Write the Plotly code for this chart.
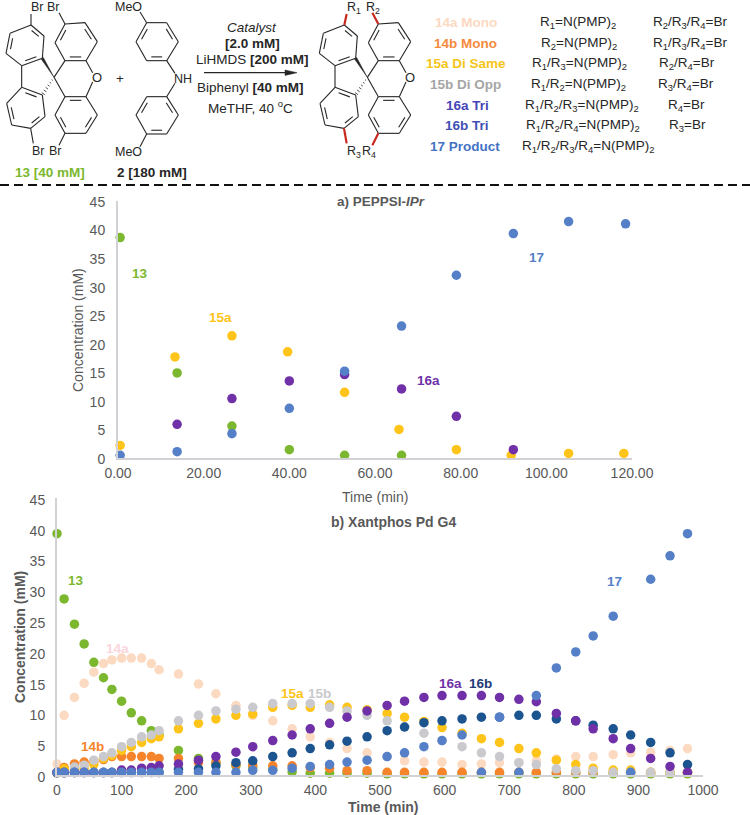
import plotly.graph_objects as go

# ---------- data: chart a (PEPPSI-IPr) ----------
a_green_t = [0.5, 13.8, 26.6, 40, 52.9, 66.2]
a_green = [38.6, 14.9, 5.6, 1.46, 0.47, 0.47]
a_yellow_t = [0.5, 13.3, 26.6, 39.6, 52.9, 65.6, 79, 91.8, 105.2, 118.1]
a_yellow = [2.2, 17.7, 21.4, 18.6, 11.5, 5.0, 1.46, 0.47, 0.8, 0.8]
a_purple_t = [13.8, 26.6, 40, 52.9, 66.2, 79, 92.3]
a_purple = [5.9, 10.4, 13.5, 14.6, 12.1, 7.3, 1.46]
a_blue_t = [0.5, 13.8, 26.6, 40, 52.9, 66.2, 79, 92.3, 105.2, 118.5]
a_blue = [0.47, 1.1, 4.25, 8.7, 15.2, 23.1, 32, 39.3, 41.4, 41]

# ---------- data: chart b (Xantphos Pd G4) ----------
b_t = [0, 11, 27, 42, 57, 72, 85, 100, 115, 131, 146, 158, 188, 219, 246, 277, 303, 334, 364, 392,
       422, 449, 480, 511, 538, 568, 596, 627, 657, 685, 715, 742, 773, 803, 830, 861, 888, 919, 949, 976]
b_13 = [39.2, 28.6, 24.5, 21.3, 18.3, 15.8, 13.9, 12, 10.1, 8.8, 7.2, 6.5, 4, 2.7, 2.0, 1.5, 1.2, 0.9, 0.5, 0.3,
        0.3, 0.3, 0.3, 0.2, 0.2, 0.2, 0.2, 0.2, 0.2, 0.2, 0.2, 0.2, 0.2, 0.2, 0.2, 0.2, 0.2, 0.2, 0.2, 0.2]
b_14a = [1.8, 9.7, 12.6, 14.9, 16.7, 18.1, 18.7, 19, 19, 19, 18.1, 17.1, 16.4, 14.8, 13.2, 11.3, 9.7, 8.8, 7.5, 6.2,
         5.3, 4.3, 3.6, 3.0, 2.3, 2.1, 2.1, 1.7, 1.8, 2.0, 2.0, 2.3, 2.6, 3.0, 3.0, 3.3, 3.6, 3.7, 4.0, 4.3]
b_14b = [0.43, 1.2, 1.8, 2.1, 2.2, 2.5, 3, 3, 3, 3, 3, 2.7, 2.7, 2, 2, 1.7, 1.6, 1.5, 1.5, 1.2,
         1.1, 0.7, 0.7, 0.43, 0.43, 0.43, 0.43, 0.43, 0.43, 0.43, 0.43, 0.43, 0.43, 0.43, 0.43, 0.43, 0.43, 0.43, 0.43, 0.43]
b_15a = [0.3, 1, 0.8, 1.1, 1.7, 2.7, 3.2, 4, 4.6, 5.3, 5.9, 6.2, 7.5, 8.4, 9.1, 9.7, 9.9, 11, 11.3, 11,
         11.4, 11, 10.6, 10, 9.4, 8.7, 7.7, 6.8, 5.9, 5.3, 4.3, 3.6, 2.4, 1.7, 1.1, 0.8, 0.8, 0.4, 0.4, 0.4]
b_15b = [0.3, 0.3, 1.3, 1.6, 2.4, 3, 3.6, 4.6, 5.3, 6.2, 6.5, 7.2, 8.8, 9.7, 10.4, 10.7, 11, 11.6, 11.6, 11.6,
         11, 10.4, 9.7, 8.8, 7.8, 6.8, 5.6, 4.6, 3.6, 3, 2, 1.7, 1, 0.7, 0.7, 0.43, 0.43, 0.43, 0.43, 0.43]
b_16b = [0.4, 0.4, 0.4, 0.4, 0.4, 0.4, 0.4, 0.4, 0.4, 0.4, 0.4, 0.4, 0.9, 1, 1.5, 2, 2.3, 3, 3.6, 4.3,
         4.9, 5.5, 6.2, 7.2, 7.8, 8.5, 8.8, 9.1, 9.4, 9.4, 9.7, 9.7, 9.1, 8.8, 8.1, 7.5, 6.5, 5.3, 3.6, 1.7]
b_16a = [0.4, 0.4, 0.4, 0.4, 0.4, 0.4, 0.4, 0.8, 0.8, 1.1, 1.2, 1.5, 1.8, 2.4, 3, 3.7, 4.6, 5.6, 6.5, 7.5,
         8.4, 9.4, 10.4, 11.3, 12, 12.6, 12.9, 12.9, 12.9, 12.6, 12.3, 11.9, 10, 8.8, 7.5, 5.9, 4.3, 2.7, 1.4, 0.43]
b_17 = [0.43, 0.43, 0.43, 0.43, 0.43, 0.43, 0.43, 0.43, 0.43, 0.43, 0.43, 0.43, 0.43, 0.43, 0.43, 0.43, 0.76, 0.76, 1.1, 1.4,
        1.7, 2.1, 2.4, 3, 3.6, 4.6, 5.6, 6.5, 0.43, 9.4, 0.43, 12.9, 17.4, 20, 22.6, 25.8, 0.43, 31.8, 35.6, 39.2]

y_ticks = [0, 5, 10, 15, 20, 25, 30, 35, 40, 45]
a_x_ticks = [0, 20, 40, 60, 80, 100, 120]
b_x_ticks = [0, 100, 200, 300, 400, 500, 600, 700, 800, 900, 1000]

# legend table of the scheme
table_labels = ["14a Mono", "14b Mono", "15a Di Same", "15b Di Opp", "16a Tri", "16b Tri", "17 Product"]
table_col1 = ["R<sub>1</sub>=N(PMP)<sub>2</sub>", "R<sub>2</sub>=N(PMP)<sub>2</sub>",
              "R<sub>1</sub>/R<sub>3</sub>=N(PMP)<sub>2</sub>", "R<sub>1</sub>/R<sub>2</sub>=N(PMP)<sub>2</sub>",
              "R<sub>1</sub>/R<sub>2</sub>/R<sub>3</sub>=N(PMP)<sub>2</sub>", "R<sub>1</sub>/R<sub>2</sub>/R<sub>4</sub>=N(PMP)<sub>2</sub>",
              "R<sub>1</sub>/R<sub>2</sub>/R<sub>3</sub>/R<sub>4</sub>=N(PMP)<sub>2</sub>"]
table_col2 = ["R<sub>2</sub>/R<sub>3</sub>/R<sub>4</sub>=Br", "R<sub>1</sub>/R<sub>3</sub>/R<sub>4</sub>=Br",
              "R<sub>2</sub>/R<sub>4</sub>=Br", "R<sub>3</sub>/R<sub>4</sub>=Br", "R<sub>4</sub>=Br", "R<sub>3</sub>=Br", ""]

# ---------- styles ----------
W, H = 750, 815
FONT = "Liberation Sans"
GREEN, PEACH, ORANGE, YELLOW = "#7cb82f", "#fcd9c1", "#f5842a", "#ffc41a"
GRAY, PURPLE, NAVY, BLUE = "#c9c9ce", "#7030a8", "#1c5490", "#5580c8"
TICK = "#595959"
INK = "#262626"
RED = "#c8281e"


def px(x):
    return x / W


def py(y):
    return 1 - y / H


shapes, notes = [], []


def line(x0, y0, x1, y1, color=INK, width=1.1, dash=None):
    ln = dict(color=color, width=width)
    if dash:
        ln["dash"] = dash
    shapes.append(dict(type="line", xref="paper", yref="paper", x0=px(x0), y0=py(y0), x1=px(x1), y1=py(y1), line=ln))


def poly(points, color=INK):
    path = "M " + " L ".join(f"{px(a):.5f} {py(b):.5f}" for a, b in points) + " Z"
    shapes.append(dict(type="path", xref="paper", yref="paper", path=path, fillcolor=color, line=dict(color=color, width=0.5)))


def text(x, y, s, color=INK, size=13.5, bold=False, angle=0, anchor="center"):
    if bold:
        s = f"<b>{s}</b>"
    notes.append(dict(xref="paper", yref="paper", x=px(x), y=py(y), text=s, showarrow=False, xanchor=anchor,
                      yanchor="middle", textangle=angle, font=dict(family=FONT, size=size, color=color)))


def ring(pts, doubles, dx=0.0):
    """Draw an aromatic ring; pts in zoom-crop units (3x), doubles = indices of bonds with an inner line."""
    p = [((a + dx) / 3, b / 3) for a, b in pts]
    cx = sum(a for a, _ in p) / len(p)
    cy = sum(b for _, b in p) / len(p)
    for i in range(len(p)):
        a, b = p[i], p[(i + 1) % len(p)]
        line(a[0], a[1], b[0], b[1])
        if i in doubles:
            f, s = 0.80, 0.16
            ia = (cx + (a[0] - cx) * f, cy + (a[1] - cy) * f)
            ib = (cx + (b[0] - cx) * f, cy + (b[1] - cy) * f)
            line(ia[0] + (ib[0] - ia[0]) * s, ia[1] + (ib[1] - ia[1]) * s,
                 ib[0] - (ib[0] - ia[0]) * s, ib[1] - (ib[1] - ia[1]) * s)


def spiro(dx, product):
    ring([(93, 75), (132, 108), (127, 175), (65, 197), (18, 160), (30, 100)], {0, 2, 4}, dx)
    ring([(65, 262), (127, 285), (135, 350), (92, 385), (35, 375), (20, 310)], {0, 2, 4}, dx)
    ring([(195, 72), (255, 68), (292, 125), (258, 182), (195, 182), (165, 128)], {1, 3, 5}, dx)
    ring([(195, 290), (258, 290), (292, 345), (258, 400), (195, 400), (165, 345)], {0, 2, 4}, dx)
    c = (162 + dx, 232)
    line((65 + dx) / 3, 197 / 3, (65 + dx) / 3, 262 / 3)
    line(c[0] / 3, c[1] / 3, (195 + dx) / 3, 182 / 3)
    line(c[0] / 3, c[1] / 3, (195 + dx) / 3, 290 / 3)
    line((258 + dx) / 3, 182 / 3, (278 + dx) / 3, 218 / 3)
    line((258 + dx) / 3, 290 / 3, (278 + dx) / 3, 246 / 3)
    # wedge and hashed bond at the spiro centre
    ax, ay = (127 + dx) / 3, 175 / 3
    poly([(c[0] / 3, c[1] / 3), (ax - 1.0, ay + 0.8), (ax + 1.0, ay - 0.8)])
    bx, by = (127 + dx) / 3, 285 / 3
    for k in range(1, 7):
        f = k / 6.5
        mx = c[0] / 3 + (bx - c[0] / 3) * f
        my = c[1] / 3 + (by - c[1] / 3) * f
        h = 0.4 + 1.6 * f
        line(mx - h * 0.82, my - h * 0.57, mx + h * 0.82, my + h * 0.57, width=0.8)
    text((290 + dx) / 3, 232 / 3, "O", size=13)
    col = RED if product else INK
    wd = 2.2 if product else 1.1
    line((93 + dx) / 3, 75 / 3, (93 + dx + (7 if product else 0)) / 3, 42 / 3, col, wd)
    line((92 + dx) / 3, 385 / 3, (100 + dx) / 3, 430 / 3, col, wd)
    line((195 + dx) / 3, 72 / 3, (177 + dx) / 3, 38 / 3, col, wd)
    line((195 + dx) / 3, 400 / 3, (177 + dx) / 3, 436 / 3, col, wd)


# reagents
spiro(0, False)
text(37, 7, "Br", size=12.5)
text(54, 7, "Br", size=12.5)
text(38, 151, "Br", size=12.5)
text(55, 151, "Br", size=12.5)
text(120, 78, "+", size=13.5)
ring([(440, 68), (500, 68), (535, 125), (500, 182), (440, 182), (408, 125)], {1, 3, 5})
ring([(500, 290), (440, 290), (408, 345), (440, 402), (500, 402), (535, 345)], {1, 3, 5})
line(440 / 3, 68 / 3, 420 / 3, 36 / 3)
line(500 / 3, 182 / 3, 525 / 3, 220 / 3)
line(525 / 3, 250 / 3, 500 / 3, 290 / 3)
line(440 / 3, 402 / 3, 420 / 3, 440 / 3)
text(128, 7, "MeO", size=12.5)
text(128, 152, "MeO", size=12.5)
text(183, 79, "NH", size=12.5)
text(50, 172, "13 [40 mM]", GREEN, 13.5, True)
text(152, 172, "2 [180 mM]", INK, 13.5, True)

# conditions
text(252, 27, "<i>Catalyst</i>")
text(252, 43, "<b>[2.0 mM]</b>")
text(252, 59, "LiHMDS <b>[200 mM]</b>")
line(204, 72.7, 290, 72.7, width=1.2)
poly([(297, 72.7), (285, 70), (285, 75.4)])
text(250, 87, "Biphenyl <b>[40 mM]</b>")
text(250, 107, "MeTHF, 40 <sup>o</sup>C")

# product
spiro(940, True)
text(354, 8, "R<sub>1</sub>", size=12.5)
text(373, 8, "R<sub>2</sub>", size=12.5)
text(354, 152, "R<sub>3</sub>", size=12.5)
text(369, 152, "R<sub>4</sub>", size=12.5)

# scheme table
t_cols = [PEACH, "#f58a3c", "#f5c518", "#a5a5a5", "#4646b8", "#3f50b5", "#4472c4"]
t_y = [22.7, 43.3, 64, 84.7, 105.3, 125.7, 146.3]
t_x0 = [466, 466, 466, 466, 467, 467, 465]
t_x1 = [578, 579, 579, 578, 582, 583, 588]
t_x2 = [690, 690, 687, 686, 686, 687, 0]
for i in range(7):
    text(t_x0[i], t_y[i], table_labels[i], t_cols[i], 13.5, True)
    text(t_x1[i], t_y[i], table_col1[i], INK, 13.5)
    if table_col2[i]:
        text(t_x2[i], t_y[i], table_col2[i], INK, 13.5)

line(0, 185, 750, 185, "#111111", 2, "9px,5px")

# chart text
text(381, 201, "a) PEPPSI-<i>IPr</i>", TICK, 13.5, True)
text(78, 330, "Concentration (mM)", TICK, 14, False, -90)
text(375, 497, "Time (min)", TICK, 14)
text(393, 522, "b) Xantphos Pd G4", TICK, 14, True)
text(20, 637, "Concentration (mM)", TICK, 14, True, -90)
text(383, 807, "Time (min)", TICK, 14, True)
text(140, 273, "13", GREEN, 13.5, True)
text(220, 317, "15a", YELLOW, 13.5, True)
text(536, 258, "17", BLUE, 13.5, True)
text(428, 380, "16a", PURPLE, 13.5, True)
text(76, 580, "13", GREEN, 13.5, True)
text(117, 648, "14a", "#fbd5dc", 13.5, True)
text(92, 746, "14b", ORANGE, 13.5, True)
text(292, 693, "15a", YELLOW, 13.5, True)
text(319, 693, "15b", GRAY, 13.5, True)
text(450, 683, "16a", PURPLE, 13.5, True)
text(480, 683, "16b", "#1f3a78", 13.5, True)
text(614, 581, "17", BLUE, 13.5, True)

fig = go.Figure()


def series(x, y, color, name, xa, ya):
    fig.add_trace(go.Scatter(x=x, y=y, mode="markers", name=name, xaxis=xa, yaxis=ya, cliponaxis=False,
                             marker=dict(color=color, size=9.5, line=dict(width=0)), showlegend=False))


series(a_green_t, a_green, GREEN, "13", "x", "y")
series(a_yellow_t, a_yellow, YELLOW, "15a", "x", "y")
series(a_purple_t, a_purple, PURPLE, "16a", "x", "y")
series(a_blue_t, a_blue, BLUE, "17", "x", "y")

for vals, col, nm in [(b_13, GREEN, "13"), (b_14a, PEACH, "14a"), (b_14b, ORANGE, "14b"), (b_15a, YELLOW, "15a"),
                      (b_15b, GRAY, "15b"), (b_16b, NAVY, "16b"), (b_16a, PURPLE, "16a"), (b_17, BLUE, "17")]:
    series(b_t, vals, col, nm, "x2", "y2")

axis_common = dict(showgrid=False, zeroline=False, showline=True, linecolor="#d2d2d6", linewidth=2,
                   automargin=False, ticks="outside", tickcolor="rgba(0,0,0,0)", tickwidth=1,
                   tickfont=dict(family=FONT, size=14, color=TICK))

fig.update_layout(
    width=W, height=H, autosize=False,
    margin=dict(l=0, r=0, t=0, b=0, pad=0),
    paper_bgcolor="white", plot_bgcolor="white",
    shapes=shapes, annotations=notes,
    xaxis=dict(domain=[px(118), px(632)], range=[0, 120], tickvals=a_x_ticks, tickformat=".2f", anchor="y",
               ticklen=1, **axis_common),
    yaxis=dict(domain=[py(458), py(201)], range=[0, 45], tickvals=y_ticks, anchor="x", ticklen=8,
               ticklabelshift=1, **axis_common),
    xaxis2=dict(domain=[px(57), px(703)], range=[0, 1000], tickvals=b_x_ticks, anchor="y2", ticklen=1, **axis_common),
    yaxis2=dict(domain=[py(775), py(498)], range=[0, 45], tickvals=y_ticks, anchor="x2", ticklen=7,
                ticklabelshift=2, **axis_common),
)

fig.write_html("out.html", post_script="document.body.style.margin='0';", config=dict(displayModeBar=False))
